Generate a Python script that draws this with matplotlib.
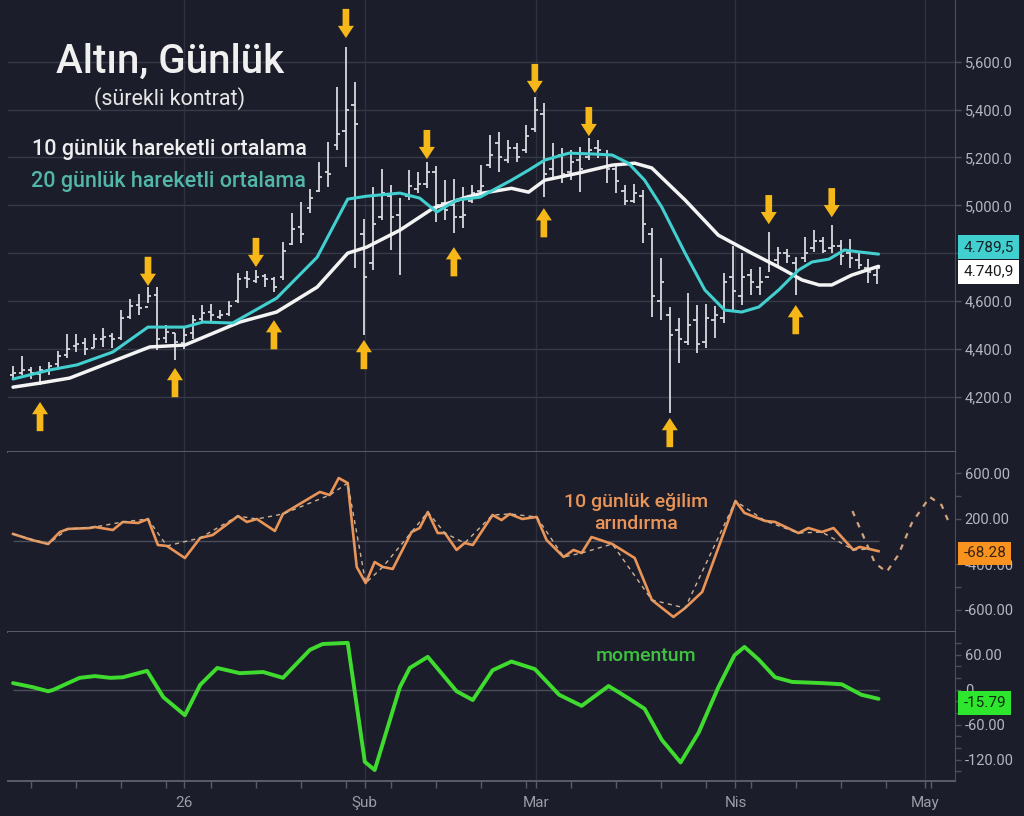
import matplotlib
matplotlib.use("Agg")
import matplotlib.pyplot as plt

plt.rcParams.update({
    "font.family": ["Roboto", "DejaVu Sans"],
    "axes.unicode_minus": False,
})

BG = "#1b1e2a"
GRID = "#363a47"
VGRID = "#2e323e"
SEP = "#595d69"
AXL = "#4b4f5a"
TXT = "#b4b7c0"
BARC = "#d9dadf"
WHITE_MA = "#f4f4f4"
CYAN_MA = "#42cfcf"
CYAN_TXT = "#52b7a9"
ORANGE = "#ea9457"
GREEN = "#3fdc2f"
YEL = "#f5b818"

# ---- price bars (bar index = trading day) ----
bar_high = [4328, 4370, 4324, 4328, 4345, 4391, 4462, 4462, 4445, 4462,
            4487, 4466, 4562, 4608, 4629, 4658, 4658, 4500, 4466, 4491,
            4541, 4583, 4587, 4562, 4600, 4717, 4725, 4729, 4713, 4700,
            4846, 4967, 5013, 5068, 5181, 5264, 5494, 5661, 5515, 4942,
            5076, 5151, 5084, 5030, 5147, 5139, 5181, 5164, 5105, 5109,
            5076, 5084, 5168, 5293, 5306, 5272, 5260, 5335, 5452, 5427,
            5260, 5239, 5231, 5243, 5281, 5272, 5231, 5168, 5084, 5088,
            5063, 4905, 4780, 4575, 4529, 4633, 4583, 4587, 4579, 4717,
            4830, 4800, 4733, 4742, 4888, 4825, 4817, 4783, 4867, 4896,
            4867, 4917, 4854, 4858, 4800, 4775, 4742]
bar_low = [4274, 4290, 4274, 4249, 4290, 4312, 4362, 4387, 4374, 4404,
           4408, 4404, 4437, 4525, 4541, 4591, 4395, 4425, 4354, 4400,
           4441, 4508, 4516, 4525, 4537, 4592, 4654, 4675, 4658, 4637,
           4687, 4833, 4842, 4967, 5055, 5076, 5231, 5160, 4738, 4458,
           4729, 4938, 4813, 4708, 5022, 5051, 5072, 4930, 4938, 4884,
           4905, 5009, 5043, 5156, 5139, 5176, 5181, 5218, 5306, 5034,
           5118, 5093, 5105, 5055, 5189, 5197, 5093, 5051, 5001, 5009,
           4842, 4533, 4520, 4131, 4341, 4416, 4383, 4404, 4445, 4508,
           4554, 4583, 4625, 4625, 4721, 4738, 4758, 4625, 4763, 4804,
           4800, 4800, 4750, 4738, 4733, 4675, 4671]
bar_open = [4290, 4300, 4310, 4295, 4310, 4335, 4375, 4410, 4425, 4405,
            4440, 4455, 4445, 4535, 4585, 4575, 4625, 4445, 4465, 4425,
            4465, 4525, 4555, 4535, 4545, 4600, 4695, 4685, 4705, 4690,
            4700, 4840, 4910, 4990, 5060, 5140, 5250, 5310, 5420, 4880,
            4760, 4950, 5040, 4960, 5040, 5070, 5090, 5140, 5010, 5000,
            4950, 5020, 5060, 5170, 5260, 5190, 5240, 5230, 5320, 5380,
            5150, 5210, 5140, 5190, 5200, 5240, 5210, 5150, 5060, 5020,
            5040, 4880, 4600, 4540, 4480, 4430, 4520, 4430, 4520, 4530,
            4700, 4620, 4710, 4660, 4700, 4770, 4800, 4760, 4780, 4820,
            4850, 4820, 4830, 4800, 4770, 4740, 4710]
bar_close = [4300, 4310, 4300, 4310, 4330, 4370, 4400, 4420, 4400, 4440,
             4450, 4440, 4530, 4580, 4570, 4620, 4440, 4470, 4430, 4460,
             4520, 4550, 4540, 4540, 4580, 4690, 4690, 4700, 4690, 4660,
             4810, 4900, 4880, 5030, 5120, 5130, 5300, 5400, 5340, 4700,
             4920, 5050, 4950, 4900, 5080, 5090, 5140, 5000, 4980, 4950,
             4960, 5050, 5080, 5210, 5200, 5240, 5200, 5290, 5400, 5130,
             5200, 5130, 5180, 5150, 5230, 5230, 5150, 5100, 5020, 5050,
             4920, 4620, 4680, 4460, 4440, 4500, 4420, 4530, 4540, 4680,
             4640, 4700, 4680, 4680, 4760, 4800, 4790, 4700, 4800, 4850,
             4810, 4830, 4790, 4780, 4750, 4720, 4740]

# ---- moving averages ----
ma_slow_x = [0, 3, 6.3, 15.2, 19.1, 25.2, 29.3, 33.8, 37.2, 39.3, 43, 46.7,
             50.4, 52.2, 55.4, 57.3, 59.1, 62.9, 66.6, 69.1, 71, 74.7, 78.4,
             82.1, 85.1, 87.7, 89.6, 91, 93.2, 96.2]
ma_slow_y = [4240, 4257, 4278, 4408, 4416, 4512, 4554, 4658, 4800, 4825, 4896,
             4988, 5034, 5051, 5071, 5055, 5105, 5135, 5168, 5176, 5156, 5022,
             4875, 4800, 4742, 4688, 4667, 4667, 4708, 4745]
ma_fast_x = [0, 4.1, 7.1, 11.1, 15, 19.1, 21.1, 24.4, 29.3, 33.8, 37.2, 39.3,
             43, 45.2, 47.1, 49.3, 51.9, 55.4, 57.3, 59.1, 61.8, 64.7, 66.6,
             68.4, 70.2, 72.1, 74.7, 76.9, 79.1, 81, 82.9, 85.1, 87.3, 88.8,
             90.7, 92.4, 94.3, 96.2]
ma_fast_y = [4274, 4312, 4333, 4387, 4491, 4491, 4512, 4508, 4612, 4783, 5026,
             5038, 5051, 5030, 4972, 5022, 5034, 5105, 5147, 5189, 5218, 5214,
             5210, 5176, 5105, 4993, 4800, 4646, 4562, 4554, 4575, 4646, 4729,
             4763, 4775, 4813, 4804, 4796]
last_fast = "4.789,5"
last_fast_val = 4789.5
last_slow = "4.740,9"
last_slow_val = 4740.9

# ---- signal arrows (bar index, tip price) ----
down_idx = [15, 27, 37, 46, 58, 64, 84, 91]
down_tip = [4663, 4742, 5699, 5193, 5469, 5289, 4921, 4950]
up_idx = [3, 18, 29, 39, 49, 59, 73, 87]
up_tip = [4178, 4320, 4520, 4437, 4825, 4988, 4111, 4583]

# ---- 10-day detrended oscillator ----
osc_x = [0, 2.1, 3.9, 5.2, 6.1, 8.6, 9.1, 11.1, 12.2, 13.9, 15, 16.1, 17.1,
         19.1, 20.8, 22.2, 25, 26, 27.1, 29.1, 30, 34.1, 35.2, 36.2, 37.2,
         38.2, 39.2, 40.2, 41.1, 42.2, 44.3, 45.2, 46.1, 47.2, 48, 49.3, 50.2,
         51.1, 53.3, 54.3, 55.2, 56.6, 58.2, 59.3, 61.2, 62.3, 63.2, 64.3,
         66.6, 69.1, 71, 73.4, 74.7, 76.6, 80.3, 81.3, 83.6, 84.7, 87.3, 88.4,
         89.9, 91.2, 93.4, 94.1, 95.2, 96.2]
osc_y = [66, 13, -22, 83, 110, 118, 127, 101, 171, 162, 197, -31, -39, -145,
         31, 57, 223, 171, 197, 92, 241, 434, 407, 556, 512, -223, -364, -180,
         -223, -241, 83, 118, 258, 74, 74, -74, -13, -31, 232, 188, 241, 197,
         215, 13, -136, -74, -101, 39, -22, -145, -512, -661, -583, -442, 355,
         250, 180, 171, 74, 118, 83, 118, -74, -48, -66, -85]
proj_x = [93.3, 94.7, 95.8, 97.1, 98.4, 99.9, 101.9, 103.2, 104]
proj_y = [267, 13, -188, -267, -118, 162, 390, 320, 171]
osc_last = "-68.28"
osc_last_val = -68.28

# ---- momentum ----
mom_x = [0, 2.2, 3.9, 4.4, 7.4, 9.1, 10.8, 12.2, 14.9, 16.7, 19.1, 20.8, 22.7,
         25.2, 27.8, 30, 33, 34.4, 37.2, 39.1, 40.2, 43, 44.1, 46.1, 49.3,
         51.1, 53.3, 55.4, 58, 60.7, 63.2, 66.2, 68.4, 70.2, 72.1, 74.2, 76.2,
         78.4, 80.2, 81.3, 82.9, 84.7, 86.6, 89.9, 92.1, 94.3, 96.2]
mom_y = [11, 4, -3, -1, 20, 23, 20, 21, 32, -13, -44, 8, 37, 28, 30, 20, 68,
         78, 80, -124, -138, 4, 37, 56, -3, -18, 33, 48, 35, -9, -28, 6, -15,
         -33, -86, -125, -74, 4, 59, 73, 51, 21, 13, 11, 9, -9, -16]
mom_last = "-15.79"
mom_last_val = -15.79

month_pos = [19, 39.1, 58.1, 80.3, 101.4]
month_labels = ["26", "Şub", "Mar", "Nis", "May"]

# 4,800.0 sits under the value tags in the original, so its label is left blank
price_ticks = [4200, 4400, 4600, 4800, 5000, 5200, 5400, 5600]
price_tick_labels = ["4,200.0", "4,400.0", "4,600.0", "", "5,000.0",
                     "5,200.0", "5,400.0", "5,600.0"]
osc_ticks = [600, 200, -200, -600]
osc_tick_labels = ["600.00", "200.00", "-400.00", "-600.00"]
mom_ticks = [60, 0, -60, -120]
mom_tick_labels = ["60.00", "0", "-60.00", "-120.00"]

W, H = 1024, 816


def fx(px):
    return px / W


def fy(py):
    return 1 - py / H


fig = plt.figure(figsize=(W / 100, H / 100), dpi=100, facecolor=BG)
L, R = 8, 955
ax_p = fig.add_axes([fx(L), fy(452), (R - L) / W, 452 / H])
ax_o = fig.add_axes([fx(L), fy(632), (R - L) / W, 180 / H], sharex=ax_p)
ax_m = fig.add_axes([fx(L), fy(781), (R - L) / W, 149 / H], sharex=ax_p)

for ax in (ax_p, ax_o, ax_m):
    ax.set_facecolor(BG)
    for s in ("top", "left"):
        ax.spines[s].set_visible(False)
    ax.spines["right"].set_color(AXL)
    ax.spines["bottom"].set_color(SEP)
    ax.spines["bottom"].set_linewidth(1.4)
    ax.yaxis.tick_right()
    ax.tick_params(axis="y", colors=AXL, labelcolor=TXT, labelsize=10.5,
                   length=4, width=1, pad=3)
    ax.tick_params(axis="y", which="minor", colors=AXL, length=4, width=1)
    ax.grid(axis="x", color=VGRID, lw=1)
    ax.set_axisbelow(True)

ax_p.set_xlim(-0.56, 104.7)
ax_m.set_xticks(month_pos, month_labels)
ax_m.set_xticks(range(2, 105, 5), minor=True)
for ax in (ax_p, ax_o):
    ax.tick_params(axis="x", which="both", bottom=False, labelbottom=False)
ax_m.tick_params(axis="x", which="both", colors=SEP, labelcolor="#9a9da6",
                 labelsize=11, length=5, width=1, pad=6)

# ---- price panel ----
ax_p.set_ylim(3969, 5858)
ax_p.set_yticks(price_ticks, price_tick_labels)
ax_p.grid(axis="y", color=GRID, lw=1)

idx = list(range(len(bar_high)))
ax_p.vlines(idx, bar_low, bar_high, color=BARC, lw=1.3, zorder=3)
ax_p.hlines(bar_open, [i - 0.38 for i in idx], idx, color=BARC, lw=1.3, zorder=3)
ax_p.hlines(bar_close, idx, [i + 0.38 for i in idx], color=BARC, lw=1.3, zorder=3)

ax_p.plot(ma_slow_x, ma_slow_y, color=WHITE_MA, lw=2.5, zorder=4,
          solid_capstyle="round", solid_joinstyle="round")
ax_p.plot(ma_fast_x, ma_fast_y, color=CYAN_MA, lw=2.2, zorder=5,
          solid_capstyle="round", solid_joinstyle="round")

astyle = "simple,head_length=0.55,head_width=0.72,tail_width=0.3"
for i, t in zip(down_idx, down_tip):
    ax_p.annotate("", xy=(i, t), xytext=(0, 21), textcoords="offset points",
                  arrowprops=dict(arrowstyle=astyle, color=YEL, lw=0,
                                  shrinkA=0, shrinkB=0, mutation_scale=16),
                  zorder=6)
for i, t in zip(up_idx, up_tip):
    ax_p.annotate("", xy=(i, t), xytext=(0, -21), textcoords="offset points",
                  arrowprops=dict(arrowstyle=astyle, color=YEL, lw=0,
                                  shrinkA=0, shrinkB=0, mutation_scale=16),
                  zorder=6)


def value_tag(ax, val, text, fc, tc, dy):
    ax.annotate(text, xy=(1, val), xycoords=ax.get_yaxis_transform(),
                xytext=(6, dy), textcoords="offset points", ha="left",
                va="center", fontsize=11, color=tc, zorder=10,
                annotation_clip=False,
                bbox=dict(boxstyle="square,pad=0.32", fc=fc, ec="none"))


value_tag(ax_p, last_fast_val, last_fast, CYAN_MA, "#152025", 6.3)
value_tag(ax_p, last_slow_val, last_slow, "#ffffff", "#1a1a1a", -3.2)

# ---- oscillator panel ----
ax_o.set_ylim(-793, 784)
ax_o.set_yticks(osc_ticks, osc_tick_labels)
ax_o.set_yticks([400, -400], minor=True)
ax_o.hlines(0, osc_x[0], osc_x[-1], color="#4a4e5a", lw=1, zorder=1)
ax_o.plot(osc_x, osc_y, color=ORANGE, lw=1.9, zorder=3,
          solid_joinstyle="round")
ax_o.plot(osc_x[::2], osc_y[::2], color="#cdb093", lw=1.0, ls=(0, (3, 3)),
          zorder=4)
ax_o.plot(proj_x, proj_y, color="#d2a47c", lw=1.6, ls=(0, (2.5, 3)), zorder=3)
value_tag(ax_o, osc_last_val, osc_last, "#f7931e", "#3a2210", -3)

# ---- momentum panel ----
ax_m.set_ylim(-156.8, 98.6)
ax_m.set_yticks(mom_ticks, mom_tick_labels)
ax_m.set_yticks([80, 40, 20, -20, -40, -80, -100, -140], minor=True)
ax_m.hlines(0, mom_x[0], mom_x[-1], color="#4a4e5a", lw=1, zorder=1)
ax_m.plot(mom_x, mom_y, color=GREEN, lw=2.8, zorder=3,
          solid_capstyle="round", solid_joinstyle="round")
value_tag(ax_m, mom_last_val, mom_last, "#2ee62e", "#0f2a0f", -3)

# ---- texts ----
fig.text(fx(170), fy(73), "Altın, Günlük", ha="center", va="baseline",
         fontsize=29, fontweight="medium", color="#f0f0f0")
fig.text(fx(170), fy(105), "(sürekli kontrat)", ha="center", va="baseline",
         fontsize=15.5, color="#e6e6e6")
fig.text(fx(32), fy(155), "10 günlük hareketli ortalama", ha="left",
         va="baseline", fontsize=15.5, fontweight="medium", color="#eeeeee")
fig.text(fx(31), fy(187), "20 günlük hareketli ortalama", ha="left",
         va="baseline", fontsize=15.5, fontweight="medium", color=CYAN_TXT)
fig.text(fx(636), fy(507), "10 günlük eğilim", ha="center", va="baseline",
         fontsize=14, fontweight="medium", color=ORANGE)
fig.text(fx(636), fy(529), "arındırma", ha="center", va="baseline",
         fontsize=14, fontweight="medium", color=ORANGE)
fig.text(fx(646), fy(661), "momentum", ha="center", va="baseline",
         fontsize=14, fontweight="medium", color="#3fc23f")

fig.savefig("out.png", dpi=100, facecolor=BG)
